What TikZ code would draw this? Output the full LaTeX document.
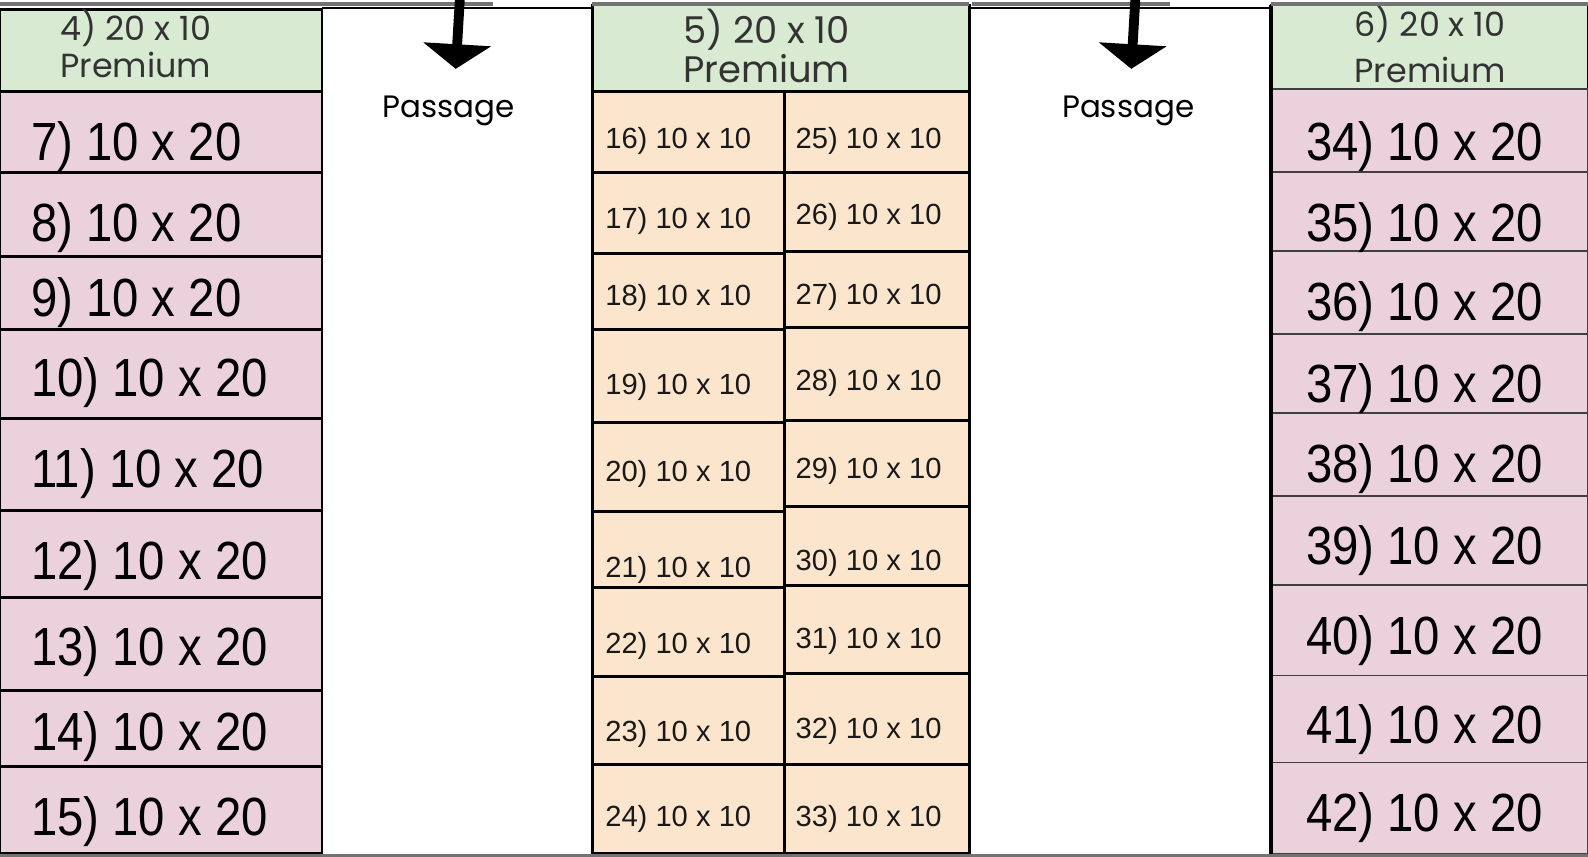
\documentclass[tikz,border=0pt]{standalone}
\usepackage{fontspec}
\setmainfont{Liberation Sans}
\newfontfamily\narrowfont[FakeStretch=0.88]{Liberation Sans}
\newfontfamily\roundfont{Poppins}
\usetikzlibrary{arrows.meta}
\definecolor{premgreen}{HTML}{D9EAD3}
\definecolor{plotpink}{HTML}{EAD1DC}
\definecolor{plotpeach}{HTML}{FCE5CD}
\begin{document}
\begin{tikzpicture}[x=0.0101276cm,y=-0.01013cm,
  greencell/.style={fill=premgreen,draw=black,line width=0.8pt},
  pinkcell/.style={fill=plotpink,draw=black,line width=0.8pt},
  pinkcellr/.style={fill=plotpink,draw=black!75,line width=0.5pt},
  peachcell/.style={fill=plotpeach,draw=black,line width=0.9pt},
  edgeline/.style={draw=black!55,line width=1pt},
  passarrow/.style={line width=2.8pt,-{Triangle[width=19pt,length=7pt]}},
  pinklbl/.style={anchor=base west,inner sep=0pt,font=\narrowfont\fontsize{15.3}{18}\selectfont},
  peachlbl/.style={anchor=base west,inner sep=0pt,text=black!90,font=\fontsize{8.3}{10}\selectfont},
  headlbl/.style={anchor=base,inner sep=0pt,text=black!80,font=\roundfont\fontsize{9.5}{12}\selectfont},
  bighead/.style={headlbl,font=\roundfont\fontsize{10.5}{13}\selectfont},
  passlbl/.style={anchor=base,inner sep=0pt,font=\roundfont\fontsize{8.8}{11}\selectfont}]
\useasboundingbox (0,0) rectangle (1568,846);
% left row of plots
\draw[greencell] (0,9) rectangle (318,90);
\draw[pinkcell] (0,90) rectangle (318,170);
\draw[pinkcell] (0,170) rectangle (318,253);
\draw[pinkcell] (0,253) rectangle (318,325);
\draw[pinkcell] (0,325) rectangle (318,413);
\draw[pinkcell] (0,413) rectangle (318,504);
\draw[pinkcell] (0,504) rectangle (318,590);
\draw[pinkcell] (0,590) rectangle (318,682);
\draw[pinkcell] (0,682) rectangle (318,757);
\draw[pinkcell] (0,757) rectangle (318,843);
\node[headlbl] (h4a) at (134,40) {4) 20 x 10};
\node[headlbl] (h4b) at (134,77) {Premium};
\node[pinklbl] (p7) at (30,158) {7) 10 x 20};
\node[pinklbl] (p8) at (30,238) {8) 10 x 20};
\node[pinklbl] (p9) at (30,313) {9) 10 x 20};
\node[pinklbl] (p10) at (30,392) {10) 10 x 20};
\node[pinklbl] (p11) at (30,481) {11) 10 x 20};
\node[pinklbl] (p12) at (30,572) {12) 10 x 20};
\node[pinklbl] (p13) at (30,657) {13) 10 x 20};
\node[pinklbl] (p14) at (30,741) {14) 10 x 20};
\node[pinklbl] (p15) at (30,825) {15) 10 x 20};
% middle block
\draw[greencell] (585,5) rectangle (957,90);
\draw[peachcell] (585,90) rectangle (775,170);
\draw[peachcell] (585,170) rectangle (775,250);
\draw[peachcell] (585,250) rectangle (775,325);
\draw[peachcell] (585,325) rectangle (775,417);
\draw[peachcell] (585,417) rectangle (775,505);
\draw[peachcell] (585,505) rectangle (775,580);
\draw[peachcell] (585,580) rectangle (775,668);
\draw[peachcell] (585,668) rectangle (775,755);
\draw[peachcell] (585,755) rectangle (775,843);
\draw[peachcell] (775,90) rectangle (957,170);
\draw[peachcell] (775,170) rectangle (957,248);
\draw[peachcell] (775,248) rectangle (957,323);
\draw[peachcell] (775,323) rectangle (957,415);
\draw[peachcell] (775,415) rectangle (957,500);
\draw[peachcell] (775,500) rectangle (957,578);
\draw[peachcell] (775,578) rectangle (957,665);
\draw[peachcell] (775,665) rectangle (957,755);
\draw[peachcell] (775,755) rectangle (957,843);
\node[bighead] (h5a) at (757,42.5) {5) 20 x 10};
\node[bighead] (h5b) at (757,81) {Premium};
\node[peachlbl] (q16) at (597,147) {16) 10 x 10};
\node[peachlbl] (q17) at (597,226) {17) 10 x 10};
\node[peachlbl] (q18) at (597,302) {18) 10 x 10};
\node[peachlbl] (q19) at (597,390) {19) 10 x 10};
\node[peachlbl] (q20) at (597,475) {20) 10 x 10};
\node[peachlbl] (q21) at (597,570) {21) 10 x 10};
\node[peachlbl] (q22) at (597,645) {22) 10 x 10};
\node[peachlbl] (q23) at (597,732) {23) 10 x 10};
\node[peachlbl] (q24) at (597,816) {24) 10 x 10};
\node[peachlbl] (q25) at (785,147) {25) 10 x 10};
\node[peachlbl] (q26) at (785,222) {26) 10 x 10};
\node[peachlbl] (q27) at (785,301) {27) 10 x 10};
\node[peachlbl] (q28) at (785,386) {28) 10 x 10};
\node[peachlbl] (q29) at (785,472) {29) 10 x 10};
\node[peachlbl] (q30) at (785,563) {30) 10 x 10};
\node[peachlbl] (q31) at (785,640) {31) 10 x 10};
\node[peachlbl] (q32) at (785,729) {32) 10 x 10};
\node[peachlbl] (q33) at (785,816) {33) 10 x 10};
% right row of plots
\draw[greencell] (1255,5) rectangle (1568,88);
\draw[pinkcellr] (1255,88) rectangle (1568,170);
\draw[pinkcellr] (1255,170) rectangle (1568,248);
\draw[pinkcellr] (1255,248) rectangle (1568,330);
\draw[pinkcellr] (1255,330) rectangle (1568,408);
\draw[pinkcellr] (1255,408) rectangle (1568,490);
\draw[pinkcellr] (1255,490) rectangle (1568,578);
\draw[pinkcellr] (1255,578) rectangle (1568,667);
\draw[pinkcellr] (1255,667) rectangle (1568,753);
\draw[pinkcellr] (1255,753) rectangle (1568,843);
\draw[line width=0.9pt] (1255,5) -- (1255,843);
\node[headlbl] (h6a) at (1412,36.5) {6) 20 x 10};
\node[headlbl] (h6b) at (1412,81) {Premium};
\node[pinklbl] (p34) at (1289,158) {34) 10 x 20};
\node[pinklbl] (p35) at (1289,238) {35) 10 x 20};
\node[pinklbl] (p36) at (1289,316) {36) 10 x 20};
\node[pinklbl] (p37) at (1289,397) {37) 10 x 20};
\node[pinklbl] (p38) at (1289,476) {38) 10 x 20};
\node[pinklbl] (p39) at (1289,557) {39) 10 x 20};
\node[pinklbl] (p40) at (1289,646) {40) 10 x 20};
\node[pinklbl] (p41) at (1289,734) {41) 10 x 20};
\node[pinklbl] (p42) at (1289,821) {42) 10 x 20};
% passages
\draw[line width=0.5pt] (318,8) -- (585,8);
\draw[line width=0.5pt] (957,8) -- (1255,8);
\draw[edgeline] (0,4) -- (487,4);
\draw[edgeline] (585,4) -- (957,4);
\draw[edgeline] (960,4) -- (1155,4);
\draw[edgeline] (1255,4) -- (1568,4);
\draw[edgeline] (0,845) -- (1568,845);
\coordinate (a1top) at (454,0);
\coordinate (a1tip) at (450,68);
\coordinate (a2top) at (1121,0);
\coordinate (a2tip) at (1117,68);
\draw[passarrow] (a1top) -- (a1tip);
\draw[passarrow] (a2top) -- (a2tip);
\node[passlbl] (pass1) at (443,116.5) {Passage};
\node[passlbl] (pass2) at (1114,116.5) {Passage};
\end{tikzpicture}
\end{document}
